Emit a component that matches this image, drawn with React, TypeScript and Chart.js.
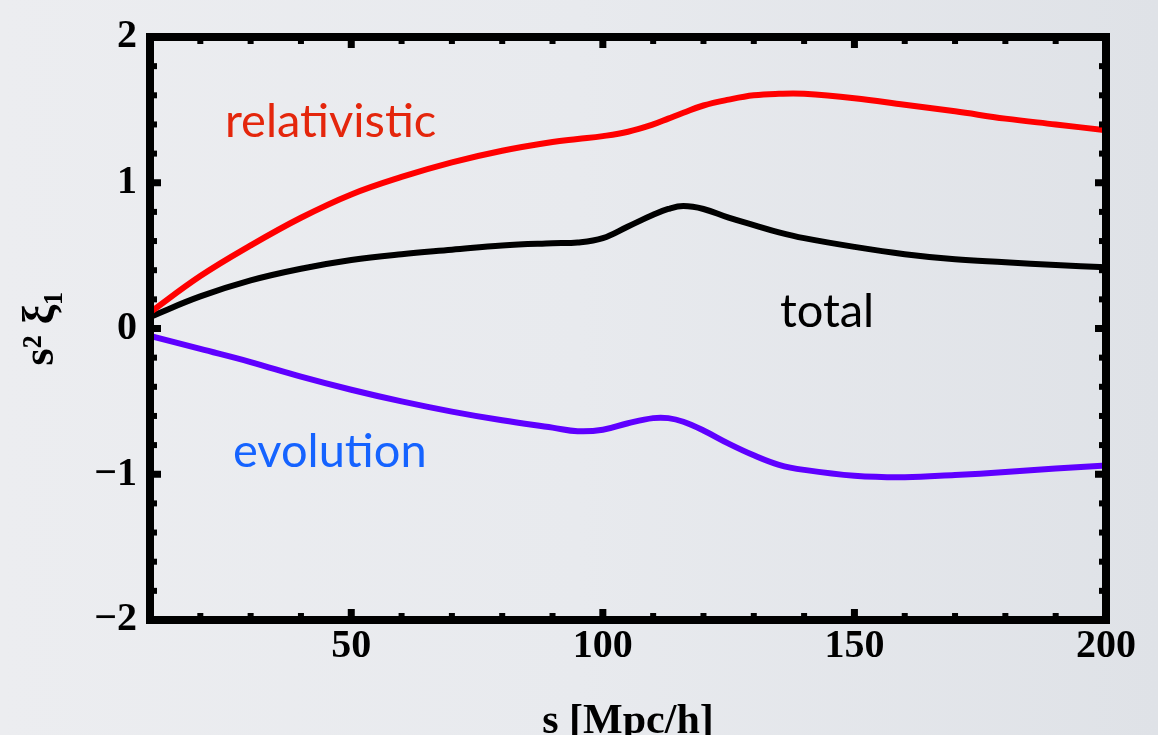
import React, { useEffect, useRef } from "react";
import { Chart, registerables } from "chart.js";

Chart.register(...registerables);

// separation s [Mpc/h]
const sValues = [10, 20, 30, 40, 50, 60, 70, 80, 90, 95, 100, 105, 110, 113, 116, 120, 125, 130, 135, 140, 150, 160, 170, 180, 190, 200];
const relativistic = [0.11, 0.36, 0.57, 0.76, 0.92, 1.04, 1.14, 1.22, 1.28, 1.30, 1.32, 1.35, 1.40, 1.44, 1.48, 1.53, 1.57, 1.60, 1.61, 1.61, 1.58, 1.535, 1.49, 1.44, 1.40, 1.36];
const total = [0.08, 0.22, 0.33, 0.41, 0.47, 0.51, 0.54, 0.57, 0.585, 0.59, 0.62, 0.70, 0.78, 0.82, 0.84, 0.82, 0.76, 0.71, 0.66, 0.62, 0.56, 0.51, 0.475, 0.455, 0.435, 0.42];
const evolution = [-0.05, -0.14, -0.23, -0.33, -0.42, -0.50, -0.57, -0.63, -0.68, -0.705, -0.695, -0.65, -0.615, -0.615, -0.64, -0.70, -0.79, -0.87, -0.935, -0.97, -1.01, -1.02, -1.005, -0.985, -0.96, -0.94];

const xTickValues = [50, 100, 150, 200];
const xMinorValues = [20, 30, 40, 60, 70, 80, 90, 110, 120, 130, 140, 160, 170, 180, 190];
const yTickValues = [-2, -1, 0, 1, 2];
const yMinorValues = [-1.8, -1.6, -1.4, -1.2, -0.8, -0.6, -0.4, -0.2, 0.2, 0.4, 0.6, 0.8, 1.2, 1.4, 1.6, 1.8];

// curve labels: [text, s, value, color]
const curveLabels: [string, number, number, string][] = [
  ["relativistic", 24.9, 1.315, "#e4260c"],
  ["total", 135.2, 0.007, "#000000"],
  ["evolution", 26.5, -0.95, "#1563ff"],
];

const serif = '"Liberation Serif", "Times New Roman", serif';

const framePlugin = {
  id: "frame",
  afterDatasetsDraw(chart: any) {
    const { ctx, chartArea, scales } = chart;
    const { left, right, top, bottom } = chartArea;
    const x = scales.x;
    const y = scales.y;
    ctx.save();
    ctx.fillStyle = "#000";
    const tick = (px: number, len: number, w: number) => {
      ctx.fillRect(px - w / 2, top, w, len);
      ctx.fillRect(px - w / 2, bottom - len, w, len);
    };
    const ytick = (py: number, len: number, w: number) => {
      ctx.fillRect(left, py - w / 2, len, w);
      ctx.fillRect(right - len, py - w / 2, len, w);
    };
    xMinorValues.forEach((v) => tick(x.getPixelForValue(v), 7, 6));
    xTickValues.forEach((v) => tick(x.getPixelForValue(v), 11, 7));
    yMinorValues.forEach((v) => ytick(y.getPixelForValue(v), 7, 6));
    yTickValues.forEach((v) => ytick(y.getPixelForValue(v), 11, 7));
    ctx.lineWidth = 8;
    ctx.strokeStyle = "#000";
    ctx.strokeRect(left, top, right - left, bottom - top);

    ctx.font = '47px Lato, "Open Sans", sans-serif';
    ctx.textBaseline = "alphabetic";
    ctx.textAlign = "left";
    curveLabels.forEach(([t, s, v, c]) => {
      ctx.fillStyle = c;
      ctx.fillText(t, x.getPixelForValue(s), y.getPixelForValue(v));
    });
    ctx.restore();
  },
};

export default function App() {
  const ref = useRef<HTMLCanvasElement>(null);
  useEffect(() => {
    if (!ref.current) return;
    const mk = (arr: number[]) => sValues.map((s, i) => ({ x: s, y: arr[i] }));
    const common = {
      borderWidth: 6,
      pointRadius: 0,
      tension: 0.4,
      fill: false,
    };
    const chart = new Chart(ref.current, {
      type: "line",
      data: {
        datasets: [
          { label: "relativistic", data: mk(relativistic), borderColor: "#ff0000", ...common },
          { label: "total", data: mk(total), borderColor: "#000000", ...common },
          { label: "evolution", data: mk(evolution), borderColor: "#5f00ff", ...common },
        ],
      },
      options: {
        animation: false,
        responsive: false,
        layout: { padding: { left: 0, right: 52, top: 30, bottom: 0 } },
        plugins: { legend: { display: false }, tooltip: { enabled: false } },
        scales: {
          x: {
            type: "linear",
            min: 10,
            max: 200,
            afterBuildTicks: (s: any) => {
              s.ticks = xTickValues.map((v) => ({ value: v }));
            },
            afterFit: (s: any) => {
              s.height = 115;
            },
            grid: { display: false, drawTicks: false },
            border: { display: false },
            ticks: {
              color: "#000",
              padding: 3,
              maxRotation: 0,
              autoSkip: false,
              font: { family: serif, weight: "bold", size: 40 },
            },
            title: {
              display: true,
              text: "s [Mpc/h]",
              color: "#000",
              padding: 0,
              font: { family: serif, weight: "bold", size: 42, lineHeight: "26px" },
            },
          },
          y: {
            type: "linear",
            min: -2,
            max: 2,
            afterBuildTicks: (s: any) => {
              s.ticks = yTickValues.map((v) => ({ value: v }));
            },
            afterFit: (s: any) => {
              s.width = 150;
            },
            grid: { display: false, drawTicks: false },
            border: { display: false },
            ticks: {
              color: "#000",
              padding: 13,
              autoSkip: false,
              font: { family: serif, weight: "bold", size: 40 },
              callback: (v: any) => (Number(v) < 0 ? "\u2212" + Math.abs(Number(v)) : String(v)),
            },
            title: {
              display: true,
              text: "s\u00B2 \u03BE\u2081",
              color: "#000",
              padding: { top: 20, bottom: 0 },
              font: { family: serif, weight: "bold", size: 44, lineHeight: "44px" },
            },
          },
        },
      },
      plugins: [framePlugin],
    });
    return () => chart.destroy();
  }, []);

  return (
    <div
      style={{
        position: "fixed",
        left: 0,
        top: 0,
        width: 1158,
        height: 735,
        background: "linear-gradient(to right, #ecedf0 0%, #e8eaee 50%, #dfe2e7 100%)",
      }}
    >
      <canvas ref={ref} width={1158} height={735} style={{ display: "block" }} />
    </div>
  );
}
